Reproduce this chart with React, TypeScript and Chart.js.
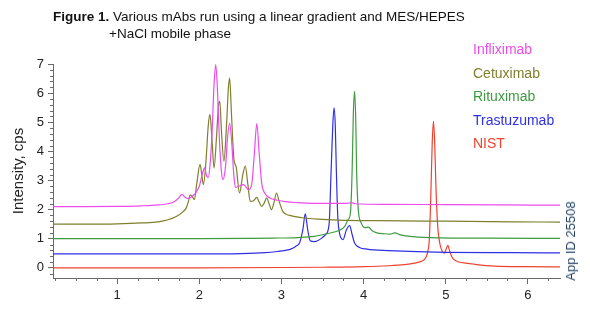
import React, { useEffect, useRef } from "react";
import { Chart, registerables } from "chart.js";

Chart.register(...registerables);

// ---- Data ----
const seriesNames = ["Infliximab", "Cetuximab", "Rituximab", "Trastuzumab", "NIST"];
const seriesColors = ["#ee4cee", "#7f7f2c", "#3f9b3f", "#2f2fe6", "#f0432f"];

const infliximabX = [0.22, 0.6, 1.0, 1.3, 1.5, 1.62, 1.70, 1.75, 1.79, 1.83, 1.86, 1.90, 1.95, 2.00, 2.04, 2.065, 2.09, 2.11, 2.13, 2.155, 2.18, 2.20, 2.22, 2.245, 2.27, 2.29, 2.32, 2.345, 2.37, 2.395, 2.42, 2.44, 2.48, 2.54, 2.60, 2.64, 2.67, 2.70, 2.73, 2.76, 2.80, 2.86, 2.95, 3.05, 3.2, 3.5, 3.8, 3.85, 3.9, 4.3, 5.0, 5.7, 6.39];
const infliximabY = [2.10, 2.10, 2.11, 2.13, 2.16, 2.20, 2.28, 2.40, 2.52, 2.42, 2.38, 2.43, 2.55, 2.80, 3.25, 3.43, 3.15, 3.10, 3.50, 4.60, 6.30, 6.98, 6.20, 4.40, 3.30, 3.03, 3.50, 4.50, 4.97, 4.30, 3.20, 2.76, 2.80, 2.86, 2.68, 2.90, 3.90, 4.95, 3.90, 2.90, 2.55, 2.40, 2.32, 2.27, 2.24, 2.21, 2.21, 2.24, 2.20, 2.18, 2.17, 2.16, 2.15];

const cetuximabX = [0.22, 0.6, 1.0, 1.3, 1.5, 1.62, 1.72, 1.80, 1.84, 1.87, 1.89, 1.915, 1.94, 1.97, 2.01, 2.035, 2.05, 2.08, 2.11, 2.13, 2.155, 2.18, 2.21, 2.235, 2.25, 2.27, 2.30, 2.33, 2.355, 2.37, 2.39, 2.42, 2.45, 2.49, 2.53, 2.56, 2.59, 2.62, 2.66, 2.70, 2.73, 2.76, 2.79, 2.82, 2.85, 2.88, 2.91, 2.94, 2.97, 3.02, 3.1, 3.25, 3.45, 3.7, 4.2, 5.0, 5.8, 6.39];
const cetuximabY = [1.50, 1.50, 1.51, 1.54, 1.58, 1.65, 1.76, 1.92, 2.05, 2.30, 2.51, 2.45, 2.34, 2.90, 3.55, 3.10, 2.86, 3.60, 4.90, 5.27, 4.40, 3.43, 4.50, 5.60, 5.72, 4.70, 3.66, 4.80, 6.20, 6.52, 5.40, 3.78, 3.45, 2.57, 3.20, 3.49, 2.90, 2.28, 2.30, 2.42, 2.25, 2.11, 2.22, 2.40, 2.20, 2.00, 2.25, 2.57, 2.30, 1.92, 1.80, 1.72, 1.67, 1.64, 1.62, 1.60, 1.58, 1.57];

const rituximabX = [0.22, 1.0, 2.0, 2.6, 2.9, 3.2, 3.4, 3.55, 3.70, 3.77, 3.81, 3.84, 3.86, 3.875, 3.89, 3.905, 3.915, 3.935, 3.97, 4.02, 4.06, 4.10, 4.16, 4.25, 4.32, 4.38, 4.45, 4.6, 4.9, 5.5, 6.39];
const rituximabY = [1.00, 1.00, 1.00, 1.01, 1.02, 1.04, 1.08, 1.17, 1.28, 1.42, 1.65, 1.90, 3.30, 5.30, 6.06, 5.00, 3.30, 2.00, 1.55, 1.38, 1.40, 1.28, 1.20, 1.17, 1.16, 1.20, 1.13, 1.07, 1.03, 1.02, 1.01];

const trastuzumabX = [0.22, 1.0, 2.0, 2.5, 2.8, 2.95, 3.05, 3.12, 3.18, 3.22, 3.26, 3.29, 3.32, 3.35, 3.40, 3.44, 3.49, 3.54, 3.58, 3.605, 3.625, 3.64, 3.655, 3.668, 3.685, 3.71, 3.75, 3.79, 3.83, 3.86, 3.89, 3.95, 4.04, 4.3, 5.0, 5.8, 6.39];
const trastuzumabY = [0.48, 0.48, 0.48, 0.49, 0.52, 0.56, 0.60, 0.65, 0.75, 0.85, 1.30, 1.85, 1.30, 0.93, 0.90, 0.93, 1.02, 1.15, 1.50, 3.37, 4.90, 5.49, 4.90, 3.37, 1.80, 1.15, 0.97, 1.30, 1.45, 1.15, 0.85, 0.70, 0.64, 0.59, 0.53, 0.52, 0.51];

const nistX = [0.22, 1.0, 2.0, 3.0, 3.5, 4.0, 4.3, 4.5, 4.62, 4.70, 4.75, 4.78, 4.80, 4.82, 4.835, 4.85, 4.865, 4.88, 4.90, 4.93, 4.96, 4.985, 5.005, 5.025, 5.045, 5.07, 5.10, 5.16, 5.25, 5.33, 5.4, 5.6, 6.0, 6.39];
const nistY = [0.00, 0.00, 0.00, 0.01, 0.02, 0.04, 0.07, 0.11, 0.16, 0.22, 0.32, 0.55, 1.00, 2.70, 4.30, 5.03, 4.30, 2.80, 1.50, 0.80, 0.55, 0.50, 0.65, 0.77, 0.60, 0.40, 0.28, 0.20, 0.16, 0.13, 0.10, 0.06, 0.04, 0.03];

const xTickValues = [1, 2, 3, 4, 5, 6];
const yTickValues = [0, 1, 2, 3, 4, 5, 6, 7];

const seriesXs = [infliximabX, cetuximabX, rituximabX, trastuzumabX, nistX];
const seriesYs = [infliximabY, cetuximabY, rituximabY, trastuzumabY, nistY];

const FONT = "'Liberation Sans', Arial, Helvetica, sans-serif";
const AXIS_COLOR = "#6a6a6a";

const minorTicksPlugin = {
  id: "minorTicks",
  afterDraw(chart: any) {
    const { ctx, scales, chartArea } = chart;
    const x = scales.x;
    const y = scales.y;
    ctx.save();
    ctx.strokeStyle = AXIS_COLOR;
    ctx.lineWidth = 1;
    ctx.beginPath();
    for (let k = Math.ceil(x.min * 4); k / 4 <= x.max; k++) {
      if (k % 4 === 0) continue;
      const px = Math.round(x.getPixelForValue(k / 4)) + 0.5;
      ctx.moveTo(px, chartArea.bottom);
      ctx.lineTo(px, chartArea.bottom + 3);
    }
    for (let k = Math.ceil(y.min * 5); k / 5 <= y.max + 1e-9; k++) {
      if (k % 5 === 0) continue;
      const py = Math.round(y.getPixelForValue(k / 5)) + 0.5;
      ctx.moveTo(chartArea.left, py);
      ctx.lineTo(chartArea.left - 3, py);
    }
    ctx.stroke();
    ctx.restore();
  },
};

export default function App() {
  const canvasRef = useRef<HTMLCanvasElement | null>(null);

  useEffect(() => {
    if (!canvasRef.current) return;
    const datasets = seriesNames.map((name, i) => ({
      label: name,
      data: seriesXs[i].map((xv, j) => ({ x: xv, y: seriesYs[i][j] })),
      borderColor: seriesColors[i],
      backgroundColor: seriesColors[i],
      borderWidth: 1.2,
      pointRadius: 0,
      fill: false,
      cubicInterpolationMode: "monotone" as const,
    }));
    const chart = new Chart(canvasRef.current, {
      type: "line",
      data: { datasets },
      plugins: [minorTicksPlugin],
      options: {
        animation: false,
        responsive: false,
        maintainAspectRatio: false,
        layout: { padding: { top: 64, right: 30, left: 0, bottom: 0 } },
        plugins: { legend: { display: false }, tooltip: { enabled: false }, title: { display: false } },
        scales: {
          x: {
            type: "linear",
            min: 0.22,
            max: 6.39,
            afterBuildTicks: (s: any) => {
              s.ticks = xTickValues.map((v) => ({ value: v }));
            },
            afterFit: (s: any) => {
              s.height = 33;
            },
            grid: { display: true, drawOnChartArea: false, drawTicks: true, tickLength: 6, color: AXIS_COLOR },
            border: { display: true, color: AXIS_COLOR, width: 1 },
            ticks: { color: "#222", font: { family: FONT, size: 13 }, padding: 4, maxRotation: 0 },
          },
          y: {
            type: "linear",
            min: -0.35,
            max: 7,
            afterBuildTicks: (s: any) => {
              s.ticks = yTickValues.map((v) => ({ value: v }));
            },
            afterFit: (s: any) => {
              s.width = 53;
            },
            grid: { display: true, drawOnChartArea: false, drawTicks: true, tickLength: 5, color: AXIS_COLOR },
            border: { display: true, color: AXIS_COLOR, width: 1 },
            ticks: { color: "#222", font: { family: FONT, size: 13 }, padding: 4 },
            title: {
              display: true,
              text: "Intensity, cps",
              color: "#222",
              font: { family: FONT, size: 15 },
              padding: { top: 10, bottom: 0 },
            },
          },
        },
      },
    });
    return () => chart.destroy();
  }, []);

  return (
    <div style={{ position: "fixed", left: 0, top: 0, width: 590, height: 311, background: "#fff", fontFamily: FONT }}>
      <canvas ref={canvasRef} width={590} height={311} style={{ position: "absolute", left: 0, top: 0, width: 590, height: 311 }} />
      <div style={{ position: "absolute", left: 53, top: 8, fontSize: 13.5, lineHeight: "17px", color: "#111", whiteSpace: "nowrap" }}>
        <b>Figure 1.</b> Various mAbs run using a linear gradient and MES/HEPES
      </div>
      <div style={{ position: "absolute", left: 109, top: 25, fontSize: 13.5, lineHeight: "17px", color: "#111", whiteSpace: "nowrap" }}>
        +NaCl mobile phase
      </div>
      {seriesNames.map((name, i) => (
        <div
          key={name}
          style={{ position: "absolute", left: 473, top: 41 + i * 23.5, fontSize: 14, lineHeight: "16px", color: seriesColors[i], whiteSpace: "nowrap" }}
        >
          {name}
        </div>
      ))}
      <div
        style={{
          position: "absolute",
          left: 571,
          top: 241,
          transform: "translate(-50%, -50%) rotate(-90deg)",
          fontSize: 13,
          lineHeight: "16px",
          color: "#1e3d5f",
          whiteSpace: "nowrap",
        }}
      >
        App ID 25508
      </div>
    </div>
  );
}
